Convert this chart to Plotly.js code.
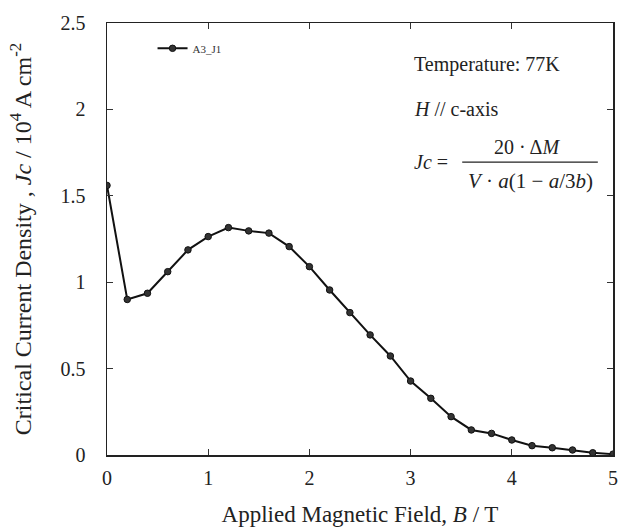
<!DOCTYPE html>
<html>
<head>
<meta charset="utf-8">
<script src="https://cdn.plot.ly/plotly-3.0.1.min.js"></script>
<style>html,body{margin:0;padding:0;background:#fff;}#chart{width:625px;height:532px;}</style>
</head>
<body>
<div id="chart"></div>
<script>
const fieldB = [0, 0.2, 0.4, 0.6, 0.8, 1.0, 1.2, 1.4, 1.6, 1.8, 2.0, 2.2, 2.4, 2.6, 2.8, 3.0, 3.2, 3.4, 3.6, 3.8, 4.0, 4.2, 4.4, 4.6, 4.8, 5.0];
const jcA3J1 = [1.56, 0.90, 0.936, 1.061, 1.187, 1.264, 1.316, 1.297, 1.284, 1.206, 1.090, 0.955, 0.824, 0.695, 0.573, 0.428, 0.328, 0.222, 0.145, 0.125, 0.087, 0.054, 0.042, 0.029, 0.013, 0.005];
const seriesName = 'A3_J1';
const xTicks = [0, 1, 2, 3, 4, 5];
const yTicks = [0, 0.5, 1, 1.5, 2, 2.5];
const yTickText = ['0', '0.5', '1', '1.5', '2', '2.5'];

const serif = 'Liberation Serif, Times New Roman, serif';

const trace = {
  x: fieldB, y: jcA3J1, name: seriesName, type: 'scatter', mode: 'lines+markers',
  line: {color: '#111', width: 2},
  marker: {symbol: 'circle', size: 6.5, color: '#333', line: {color: '#111', width: 1}}
};

const layout = {
  width: 625, height: 532,
  margin: {l: 107, r: 12, t: 23, b: 77},
  paper_bgcolor: '#fff', plot_bgcolor: '#fff',
  font: {family: serif, color: '#222'},
  showlegend: true,
  legend: {x: 0.09, y: 0.975, xanchor: 'left', yanchor: 'top', bgcolor: 'rgba(0,0,0,0)',
           font: {family: serif, size: 11, color: '#333'}},
  xaxis: {
    range: [0, 5], tickvals: xTicks, ticks: 'inside', ticklen: 6, tickwidth: 1.2, tickcolor: '#333',
    showline: true, linecolor: '#222', linewidth: 1.5, mirror: 'ticks', showgrid: false, zeroline: false,
    ticklabelstandoff: 4,
    tickfont: {family: serif, size: 20, color: '#222'},
    title: {text: 'Applied Magnetic Field, <i>B</i> / T', font: {family: serif, size: 23, color: '#222'}, standoff: 18}
  },
  yaxis: {
    range: [0, 2.5], tickvals: yTicks, ticktext: yTickText, ticks: 'inside', ticklen: 6, tickwidth: 1.2, tickcolor: '#333',
    showline: true, linecolor: '#222', linewidth: 1.5, mirror: 'ticks', showgrid: false, zeroline: false,
    ticklabelstandoff: 16,
    tickfont: {family: serif, size: 20, color: '#222'},
    title: {text: 'Critical Current Density , <i>Jc</i> / 10<sup>4</sup> A cm<sup>-2</sup>', font: {family: serif, size: 24, color: '#222'}, standoff: 22}
  },
  annotations: [
    {xref: 'paper', yref: 'paper', x: 0.603, y: 0.903, xanchor: 'left', yanchor: 'middle', showarrow: false,
     text: 'Temperature: 77K', font: {family: serif, size: 20, color: '#222'}},
    {xref: 'paper', yref: 'paper', x: 0.603, y: 0.801, xanchor: 'left', yanchor: 'middle', showarrow: false,
     text: '<i>H</i> // c-axis', font: {family: serif, size: 20, color: '#222'}},
    {xref: 'paper', yref: 'paper', x: 0.603, y: 0.678, xanchor: 'left', yanchor: 'middle', showarrow: false,
     text: '<i>Jc</i> =', font: {family: serif, size: 20, color: '#222'}},
    {xref: 'paper', yref: 'paper', x: 0.83, y: 0.713, xanchor: 'center', yanchor: 'middle', showarrow: false,
     text: '20 · Δ<i>M</i>', font: {family: serif, size: 20, color: '#222'}},
    {xref: 'paper', yref: 'paper', x: 0.836, y: 0.634, xanchor: 'center', yanchor: 'middle', showarrow: false,
     text: '<i>V</i> · <i>a</i>(1 − <i>a</i>/3<i>b</i>)', font: {family: serif, size: 21, color: '#222'}}
  ],
  shapes: [
    {type: 'line', xref: 'paper', yref: 'paper', x0: 0.702, x1: 0.97, y0: 0.678, y1: 0.678, line: {color: '#222', width: 1.3}}
  ]
};

Plotly.newPlot('chart', [trace], layout, {displayModeBar: false, staticPlot: true});
</script>
</body>
</html>
